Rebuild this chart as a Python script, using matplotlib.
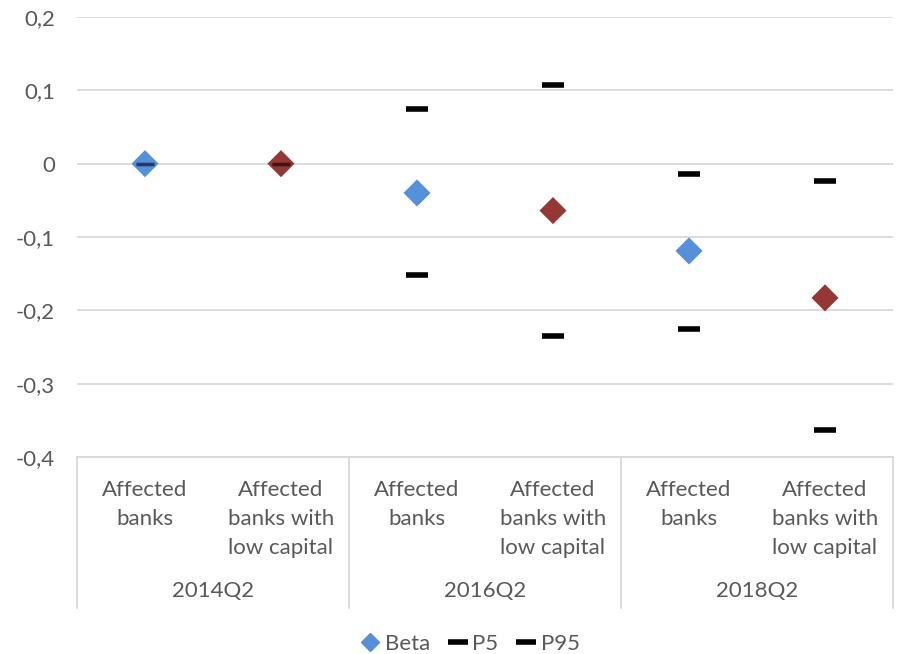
import matplotlib.pyplot as plt
import numpy as np
from matplotlib.transforms import blended_transform_factory
from matplotlib.ticker import FuncFormatter
from matplotlib.lines import Line2D

plt.rcParams['font.family'] = ['Lato', 'DejaVu Sans']

# groups and sub-categories on the x axis
periods = ['2014Q2', '2016Q2', '2018Q2']
groups = ['Affected\nbanks', 'Affected\nbanks with\nlow capital']

# estimates per category (left to right)
beta = [0.0, 0.0, -0.040, -0.064, -0.119, -0.183]
p5 = [0.0, 0.0, -0.152, -0.235, -0.225, -0.363]
p95 = [0.0, 0.0, 0.074, 0.107, -0.014, -0.023]
colors = ['#5591DB', '#953735'] * 3

txt = '#595959'
grid = '#D9D9D9'
fs = 16

fig = plt.figure(figsize=(8.98, 6.54), dpi=100)
W, H = 898, 654
ax = fig.add_axes([77 / W, 1 - 457 / H, 816 / W, 440 / H])

x = np.arange(len(beta))
ax.scatter(x, beta, marker='D', s=190, c=colors, zorder=3, linewidths=0)
# dashes sitting on top of a diamond are drawn lighter
for p in (p5, p95):
    over = np.abs(np.array(p) - np.array(beta)) < 0.01
    ax.scatter(x[~over], np.array(p)[~over], marker='_', s=230, c='black',
               linewidths=4, zorder=4)
    ax.scatter(x[over], np.array(p)[over], marker='_', s=150, c='black',
               linewidths=2.5, alpha=0.35, zorder=4)

ax.set_xlim(-0.5, len(beta) - 0.5)
ax.set_ylim(-0.4, 0.2)
ax.set_yticks([-0.4, -0.3, -0.2, -0.1, 0, 0.1, 0.2])
ax.yaxis.set_major_formatter(FuncFormatter(
    lambda v, p: '0' if abs(v) < 1e-9 else f'{v:.1f}'.replace('.', ',')))
ax.grid(axis='y', color=grid, linewidth=1.3)
ax.set_axisbelow(True)
ax.set_xticks([])
for s in ['top', 'right', 'left']:
    ax.spines[s].set_visible(False)
ax.spines['bottom'].set_color(grid)
ax.spines['bottom'].set_linewidth(1.3)
ax.tick_params(axis='y', length=0, labelsize=fs, labelcolor=txt, pad=16)

# two-level category axis
tr = blended_transform_factory(ax.transData, fig.transFigure)
for i in range(len(beta)):
    ax.text(i, 1 - 480 / H, groups[i % 2], transform=tr, ha='center', va='top',
            fontsize=fs, color=txt, linespacing=1.56)
for k, per in enumerate(periods):
    ax.text(2 * k + 0.5, 1 - 591 / H, per, transform=tr, ha='center',
            va='center', fontsize=fs, color=txt)
for b in [-0.5, 1.5, 3.5, 5.5]:
    ax.add_line(Line2D([b, b], [1 - 457 / H, 1 - 608 / H], transform=tr,
                       color=grid, linewidth=1.3, clip_on=False))

handles = [
    Line2D([], [], marker='D', color='#5591DB', linestyle='none', markersize=9),
    Line2D([], [], marker='_', color='black', linestyle='none', markersize=14,
           markeredgewidth=4),
    Line2D([], [], marker='_', color='black', linestyle='none', markersize=14,
           markeredgewidth=4),
]
leg = fig.legend(handles, ['Beta', 'P5', 'P95'], loc='center',
                 bbox_to_anchor=(471 / W, 1 - 644 / H), ncol=3, frameon=False,
                 fontsize=fs, handlelength=0.7, handletextpad=0.3,
                 columnspacing=0.9)
for t in leg.get_texts():
    t.set_color(txt)

fig.savefig('out.png', dpi=100)
